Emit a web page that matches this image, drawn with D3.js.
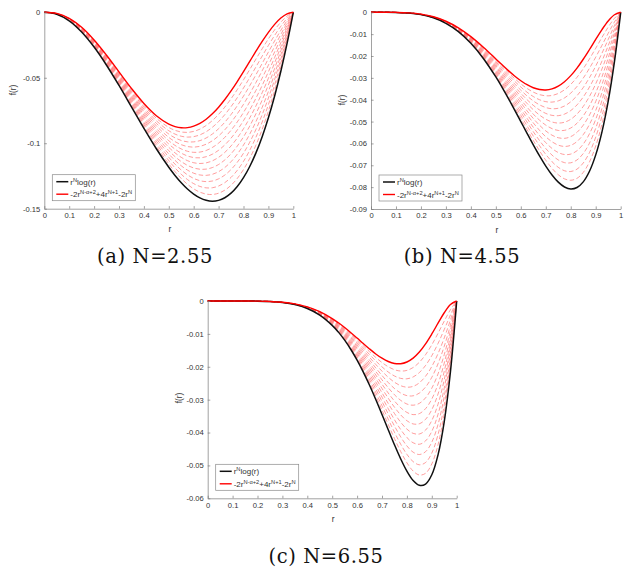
<!DOCTYPE html>
<html><head><meta charset="utf-8">
<script src="https://cdn.jsdelivr.net/npm/d3@7"></script>
<style>html,body{margin:0;padding:0;background:#fff}svg{display:block}</style>
</head><body>
<script>
const rGrid = [0,0.05,0.1,0.15,0.2,0.25,0.3,0.35,0.4,0.45,0.5,0.525,0.55,0.575,0.6,0.625,0.65,0.675,0.7,0.725,0.75,0.775,0.8,0.825,0.85,0.875,0.9,0.925,0.95,0.975,1];
const aBlack = [0,-0.00144,-0.00649,-0.01504,-0.02656,-0.04042,-0.05588,-0.07219,-0.08857,-0.10422,-0.11836,-0.12460,-0.13017,-0.13495,-0.13885,-0.14177,-0.14361,-0.14427,-0.14364,-0.14163,-0.13814,-0.13307,-0.12632,-0.11779,-0.10738,-0.09500,-0.08054,-0.06391,-0.04500,-0.02373,0];
const aRed = [0,-0.00087,-0.00457,-0.01145,-0.02113,-0.03280,-0.04549,-0.05811,-0.06960,-0.07897,-0.08538,-0.08726,-0.08818,-0.08810,-0.08698,-0.08484,-0.08168,-0.07754,-0.07249,-0.06661,-0.06002,-0.05286,-0.04529,-0.03750,-0.02973,-0.02223,-0.01529,-0.00922,-0.00439,-0.00117,0];
const bBlack = [0,0,-0.00006,-0.00034,-0.00106,-0.00253,-0.00503,-0.00884,-0.01417,-0.02111,-0.02959,-0.03434,-0.03938,-0.04462,-0.04999,-0.05538,-0.06068,-0.06573,-0.07038,-0.07444,-0.07770,-0.07992,-0.08084,-0.08017,-0.07758,-0.07273,-0.06524,-0.05468,-0.04062,-0.02256,0];
const bRed = [0,0,-0.00005,-0.00026,-0.00085,-0.00205,-0.00409,-0.00712,-0.01114,-0.01599,-0.02134,-0.02405,-0.02668,-0.02913,-0.03131,-0.03314,-0.03451,-0.03533,-0.03552,-0.03501,-0.03376,-0.03175,-0.02898,-0.02553,-0.02148,-0.01702,-0.01238,-0.00789,-0.00396,-0.00111,0];
const cBlack = [0,0,0,-0.00001,-0.00004,-0.00016,-0.00045,-0.00108,-0.00227,-0.00427,-0.00740,-0.00947,-0.01191,-0.01475,-0.01800,-0.02163,-0.02564,-0.02995,-0.03449,-0.03913,-0.04371,-0.04800,-0.05174,-0.05457,-0.05605,-0.05568,-0.05284,-0.04679,-0.03666,-0.02145,0];
const cRed = [0,0,0,-0.00001,-0.00003,-0.00013,-0.00037,-0.00087,-0.00178,-0.00324,-0.00534,-0.00663,-0.00807,-0.00963,-0.01127,-0.01295,-0.01458,-0.01610,-0.01740,-0.01840,-0.01899,-0.01907,-0.01855,-0.01737,-0.01552,-0.01303,-0.01003,-0.00675,-0.00357,-0.00106,0];
// blend levels of the dashed family between the red and black curves
const dashLevels = [0.077,0.154,0.231,0.308,0.385,0.462,0.538,0.615,0.692,0.769,0.846,0.923];
const xTicks = [0,0.1,0.2,0.3,0.4,0.5,0.6,0.7,0.8,0.9,1];
const aTicks = [0,-0.05,-0.1,-0.15];
const bTicks = [0,-0.01,-0.02,-0.03,-0.04,-0.05,-0.06,-0.07,-0.08,-0.09];
const cTicks = [0,-0.01,-0.02,-0.03,-0.04,-0.05,-0.06];
const captions = ["(a) N=2.55","(b) N=4.55","(c) N=6.55"];

// ---- layout ----
const W = 628, H = 573;
const panels = [
  {black:aBlack, red:aRed, ticks:aTicks, ymin:-0.15, x0:44.3, x1:293.3, y0:12.3, y1:208.7, ylabX:12.5, ylabY:90,  cap:captions[0], capX:155, capY:263},
  {black:bBlack, red:bRed, ticks:bTicks, ymin:-0.09, x0:371,  x1:620.7, y0:12.3, y1:209,   ylabX:342, ylabY:100, cap:captions[1], capX:462, capY:263},
  {black:cBlack, red:cRed, ticks:cTicks, ymin:-0.06, x0:207.7,x1:456.7, y0:301,  y1:498.3, ylabX:179, ylabY:398, cap:captions[2], capX:326, capY:563}
];

const svg = d3.select("body").append("svg").attr("width", W).attr("height", H);
svg.append("rect").attr("width", W).attr("height", H).attr("fill", "#fff");

const tickFont = "Liberation Sans, Arial, sans-serif";
const axisCol = "#7a7a7a", textCol = "#333";

panels.forEach(p => {
  const x = d3.scaleLinear().domain([0,1]).range([p.x0, p.x1]);
  const y = d3.scaleLinear().domain([p.ymin, 0]).range([p.y1, p.y0]);
  const g = svg.append("g");

  const line = d3.line().x(d => x(d[0])).y(d => y(d[1])).curve(d3.curveCatmullRom.alpha(0.5));

  // dashed family
  dashLevels.forEach(w => {
    const pts = rGrid.map((r,i) => [r, p.red[i] + w*(p.black[i]-p.red[i])]);
    g.append("path").attr("d", line(pts)).attr("fill","none")
      .attr("stroke","#ff6e6e").attr("stroke-opacity",0.85).attr("stroke-width",0.8)
      .attr("stroke-dasharray","4.5,2.5");
  });
  g.append("path").attr("d", line(rGrid.map((r,i)=>[r,p.black[i]]))).attr("fill","none")
    .attr("stroke","#111").attr("stroke-width",1.5);
  g.append("path").attr("d", line(rGrid.map((r,i)=>[r,p.red[i]]))).attr("fill","none")
    .attr("stroke","#f00").attr("stroke-width",1.4);

  // axes
  const xa = d3.axisBottom(x).tickValues(xTicks).tickSizeInner(-2.6).tickSizeOuter(0).tickPadding(4)
    .tickFormat(d => d3.format("~g")(d));
  const ya = d3.axisLeft(y).tickValues(p.ticks).tickSizeInner(-2.6).tickSizeOuter(0).tickPadding(4)
    .tickFormat(d => d === 0 ? "0" : d3.format("~g")(d).replace("\u2212","-"));
  const gx = g.append("g").attr("transform", `translate(0,${p.y1})`).call(xa);
  const gy = g.append("g").attr("transform", `translate(${p.x0},0)`).call(ya);
  [gx, gy].forEach(a => {
    a.select(".domain").attr("stroke", axisCol).attr("stroke-width", 0.7);
    a.selectAll(".tick line").attr("stroke", axisCol).attr("stroke-width", 0.7);
    a.selectAll("text").attr("fill", textCol).attr("font-size", 7.6).attr("font-family", tickFont);
  });

  // axis labels
  g.append("text").attr("x", (p.x0+p.x1)/2 + 1).attr("y", p.y1 + 23.5).attr("text-anchor","middle")
    .attr("font-family", tickFont).attr("font-size", 8.4).attr("fill", textCol).text("r");
  g.append("text").attr("transform", `translate(${p.ylabX + 3},${p.ylabY}) rotate(-90)`)
    .attr("text-anchor","middle").attr("font-family", tickFont).attr("font-size", 8.4)
    .attr("fill", textCol).text("f(r)");

  // legend
  const lx = p.x0 + 8, lw = 83, lh = 26, ly = p.y1 - 8 - lh;
  const lg = g.append("g");
  lg.append("rect").attr("x", lx).attr("y", ly).attr("width", lw).attr("height", lh)
    .attr("fill","#fff").attr("stroke","#8a8a8a").attr("stroke-width",0.7);
  lg.append("line").attr("x1", lx+4).attr("x2", lx+16).attr("y1", ly+7).attr("y2", ly+7)
    .attr("stroke","#111").attr("stroke-width",1.5);
  lg.append("line").attr("x1", lx+4).attr("x2", lx+16).attr("y1", ly+19.5).attr("y2", ly+19.5)
    .attr("stroke","#f00").attr("stroke-width",1.4);
  const fs = 8, sfs = 5.7;
  const t1 = lg.append("text").attr("x", lx+18).attr("y", ly+10).attr("font-family", tickFont)
    .attr("font-size", fs).attr("fill", textCol);
  const t2 = lg.append("text").attr("x", lx+18).attr("y", ly+22.5).attr("font-family", tickFont)
    .attr("font-size", fs).attr("fill", textCol);
  const parts = (t, arr) => arr.forEach(([s, sup]) => {
    t.append("tspan").attr("font-size", sup ? sfs : fs).attr("dy", sup ? -3 : 3).text(s);
  });
  t1.append("tspan").text("r");
  parts(t1, [["N",1],["log(r)",0]]);
  t2.append("tspan").text("-2r");
  parts(t2, [["N-\u03b1+2",1],["+4r",0],["N+1",1],["-2r",0],["N",1]]);

  // caption
  svg.append("text").attr("x", p.capX).attr("y", p.capY).attr("text-anchor","middle")
    .attr("font-family","DejaVu Serif, serif").attr("font-size", 19.5).attr("letter-spacing", 0.6)
    .attr("fill","#111").text(p.cap);
});
</script>
</body></html>
